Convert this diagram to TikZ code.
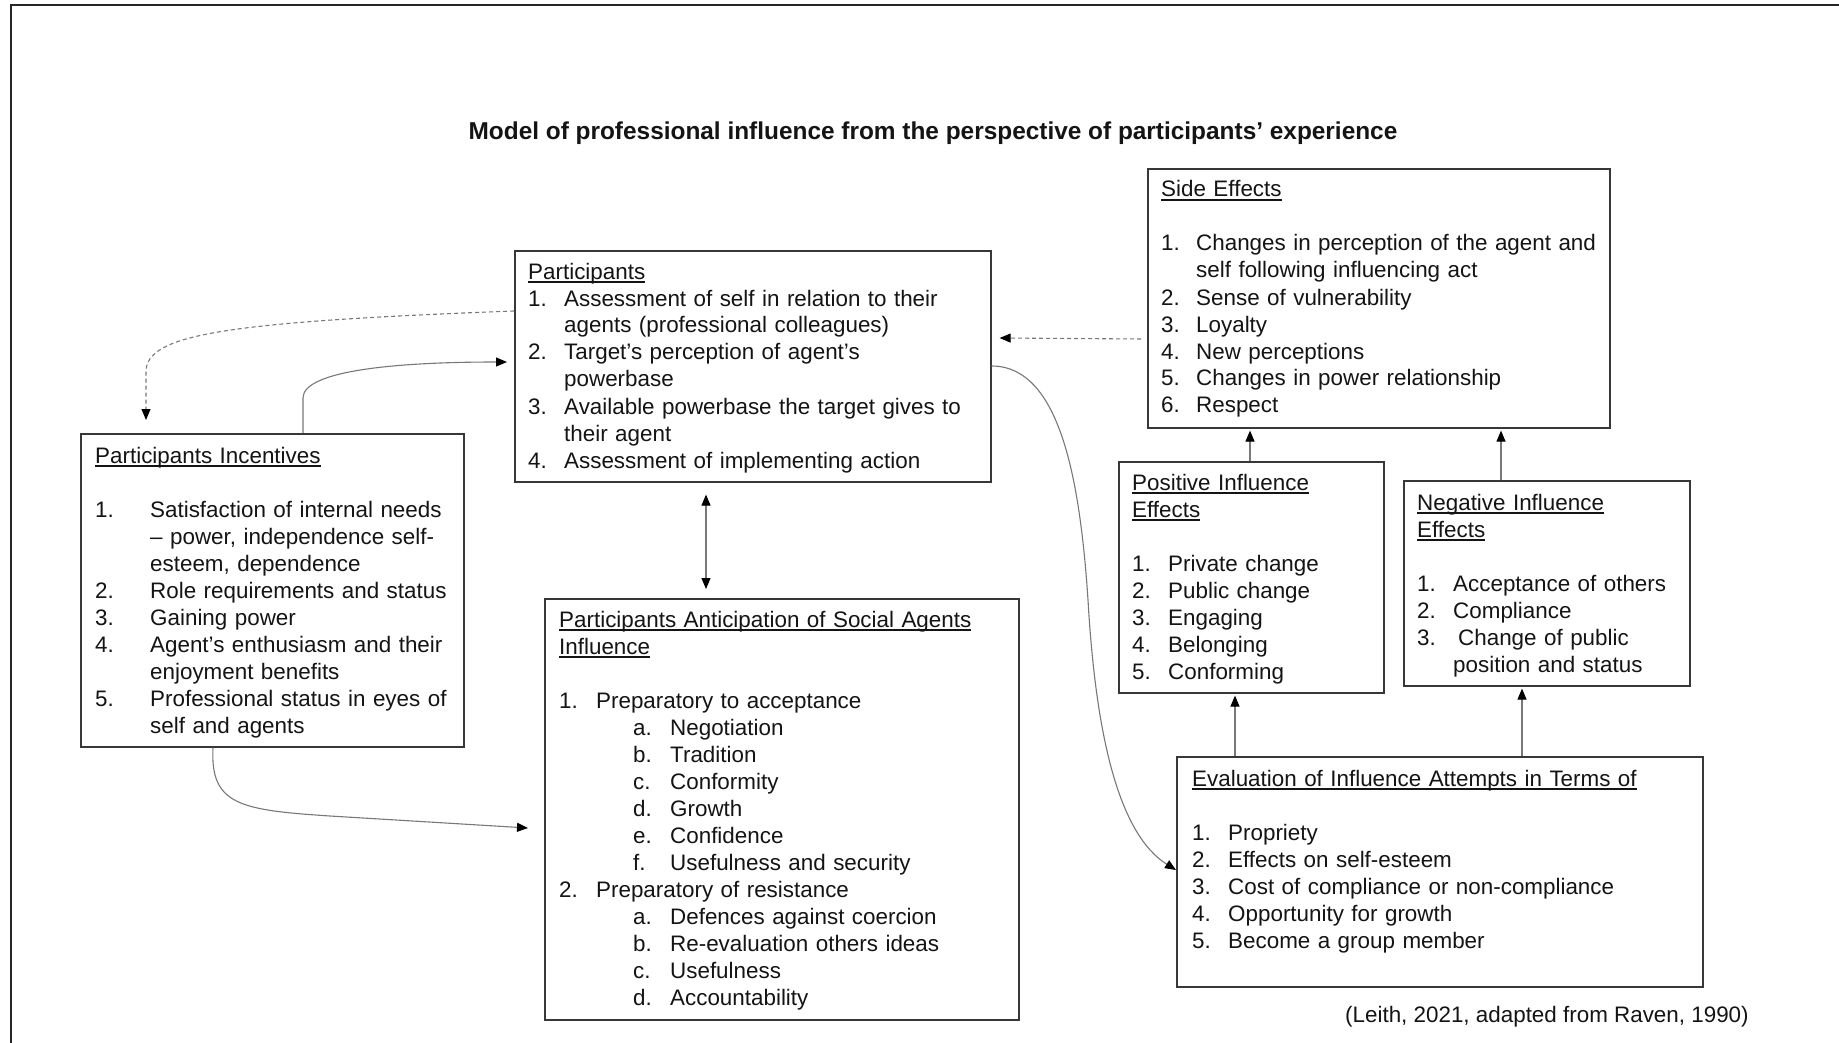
\documentclass[tikz,border=0pt]{standalone}
\usepackage{fontspec}
\setmainfont{Liberation Sans}
\usetikzlibrary{arrows.meta}
\definecolor{boxc}{RGB}{55,55,55}
\definecolor{linec}{RGB}{120,120,120}
\definecolor{txtc}{RGB}{20,20,20}
\newcommand\hd[1]{\leavevmode\setbox0=\hbox{#1}\rlap{\rule[-3.6pt]{\wd0}{1.4pt}}\box0}
\newcommand\nitem[3][36pt]{\leavevmode\makebox[#1][l]{#2}#3}
\newcommand\citem[2][36pt]{\leavevmode\hspace*{#1}#2}
\newcommand\sitem[2]{\leavevmode\hspace*{74pt}\makebox[37pt][l]{#1}#2}
\begin{document}
\begin{tikzpicture}[x=1pt,y=-1pt,
  box/.style={draw=boxc, line width=1.6pt, rectangle, inner sep=0pt, anchor=north west},
  txt/.style={anchor=base west, inner sep=0pt, align=left, font=\fontsize{22.4}{27}\selectfont, text=txtc},
  conn/.style={draw=linec, line width=1.1pt, -{Triangle[length=11pt,width=9pt,color=black]}},
  dashconn/.style={conn, dash pattern=on 4pt off 3pt},
  dbl/.style={draw=linec, line width=1.1pt, {Triangle[length=11pt,width=9pt,color=black]}-{Triangle[length=11pt,width=9pt,color=black]}}]
\useasboundingbox (0,0) rectangle (1839,1043);
\fill[white] (0,0) rectangle (1839,1043);
\draw[line width=2.2pt, black!85] (11,1043) -- (11,5) -- (1839,5);

% title
\node[anchor=base, inner sep=0pt, font=\fontsize{24.4}{29}\selectfont\bfseries, text=txtc] (title) at (933,140)
  {Model of professional influence from the perspective of participants’ experience};

% boxes
\node[box, minimum width=462pt, minimum height=259pt] (side) at (1147,168) {};
\node[box, minimum width=476pt, minimum height=231pt] (part) at (514,250) {};
\node[box, minimum width=383pt, minimum height=313pt] (inc) at (80,433) {};
\node[box, minimum width=265pt, minimum height=231pt] (pos) at (1118,461) {};
\node[box, minimum width=286pt, minimum height=205pt] (neg) at (1403,480) {};
\node[box, minimum width=474pt, minimum height=421pt] (ant) at (544,598) {};
\node[box, minimum width=526pt, minimum height=230pt] (eval) at (1176,756) {};

% texts
\node[txt, text width=440pt] (sideT) at (1161,197) {\hd{Side Effects}\\[27pt]
\nitem[35pt]{1.}{Changes in perception of the agent and}\\
\citem[35pt]{self following influencing act}\\
\nitem[35pt]{2.}{Sense of vulnerability}\\
\nitem[35pt]{3.}{Loyalty}\\
\nitem[35pt]{4.}{New perceptions}\\
\nitem[35pt]{5.}{Changes in power relationship}\\
\nitem[35pt]{6.}{Respect}};

\node[txt, text width=455pt] (partT) at (528,279) {\hd{Participants}\\
\nitem{1.}{Assessment of self in relation to their}\\
\citem{agents (professional colleagues)}\\
\nitem{2.}{Target’s perception of agent’s}\\
\citem{powerbase}\\
\nitem{3.}{Available powerbase the target gives to}\\
\citem{their agent}\\
\nitem{4.}{Assessment of implementing action}};

\node[txt, text width=365pt] (incT) at (95,463) {\hd{Participants Incentives}\\[27pt]
\nitem[55pt]{1.}{Satisfaction of internal needs}\\
\citem[55pt]{– power, independence self-}\\
\citem[55pt]{esteem, dependence}\\
\nitem[55pt]{2.}{Role requirements and status}\\
\nitem[55pt]{3.}{Gaining power}\\
\nitem[55pt]{4.}{Agent’s enthusiasm and their}\\
\citem[55pt]{enjoyment benefits}\\
\nitem[55pt]{5.}{Professional status in eyes of}\\
\citem[55pt]{self and agents}};

\node[txt, text width=245pt] (posT) at (1132,490) {\hd{Positive Influence}\\
\hd{Effects}\\[27pt]
\nitem{1.}{Private change}\\
\nitem{2.}{Public change}\\
\nitem{3.}{Engaging}\\
\nitem{4.}{Belonging}\\
\nitem{5.}{Conforming}};

\node[txt, text width=265pt] (negT) at (1417,510) {\hd{Negative Influence}\\
\hd{Effects}\\[27pt]
\nitem{1.}{Acceptance of others}\\
\nitem{2.}{Compliance}\\
\nitem{3.}{\hspace*{5pt}Change of public}\\
\citem{position and status}};

\node[txt, text width=450pt] (antT) at (559,627) {\hd{Participants Anticipation of Social Agents}\\
\hd{Influence}\\[27pt]
\nitem[37pt]{1.}{Preparatory to acceptance}\\
\sitem{a.}{Negotiation}\\
\sitem{b.}{Tradition}\\
\sitem{c.}{Conformity}\\
\sitem{d.}{Growth}\\
\sitem{e.}{Confidence}\\
\sitem{f.}{Usefulness and security}\\
\nitem[37pt]{2.}{Preparatory of resistance}\\
\sitem{a.}{Defences against coercion}\\
\sitem{b.}{Re-evaluation others ideas}\\
\sitem{c.}{Usefulness}\\
\sitem{d.}{Accountability}};

\node[txt, text width=500pt] (evalT) at (1192,786) {\hd{Evaluation of Influence Attempts in Terms of}\\[27pt]
\nitem{1.}{Propriety}\\
\nitem{2.}{Effects on self-esteem}\\
\nitem{3.}{Cost of compliance or non-compliance}\\
\nitem{4.}{Opportunity for growth}\\
\nitem{5.}{Become a group member}};

\node[txt] (cite) at (1345,1022) {(Leith, 2021, adapted from Raven, 1990)};

% connectors
\draw[dashconn] ([yshift=-61pt]part.north west) .. controls (220,322) and (146,335) .. (146,372) -- ([xshift=66pt,yshift=13pt]inc.north west);
\draw[conn] ([xshift=223pt]inc.north west) -- (303,398) .. controls (303,370) and (400,362) .. ([xshift=-7pt,yshift=-112pt]part.north west);
\draw[conn] ([xshift=133pt]inc.south west) .. controls (210,805) and (240,810) .. (330,816) -- ([xshift=-16pt,yshift=-230pt]ant.north west);
\draw[dbl] ([xshift=192pt,yshift=-12pt]part.south west) -- ([xshift=162pt,yshift=9pt]ant.north west);
\draw[dashconn] ([xshift=-6pt,yshift=-171pt]side.north west) -- ([xshift=8pt,yshift=-88pt]part.north east);
\draw[conn] ([yshift=-116pt]part.north east) .. controls (1060,366) and (1080,480) .. (1088,600) .. controls (1096,740) and (1120,835) .. ([yshift=-114pt]eval.north west);
\draw[conn] ([xshift=132pt]pos.north west) -- ([xshift=103pt,yshift=-2pt]side.south west);
\draw[conn] ([xshift=98pt]neg.north west) -- ([xshift=354pt,yshift=-2pt]side.south west);
\draw[conn] ([xshift=59pt]eval.north west) -- ([xshift=117pt,yshift=-2pt]pos.south west);
\draw[conn] ([xshift=346pt]eval.north west) -- ([xshift=119pt,yshift=-2pt]neg.south west);
\end{tikzpicture}
\end{document}
